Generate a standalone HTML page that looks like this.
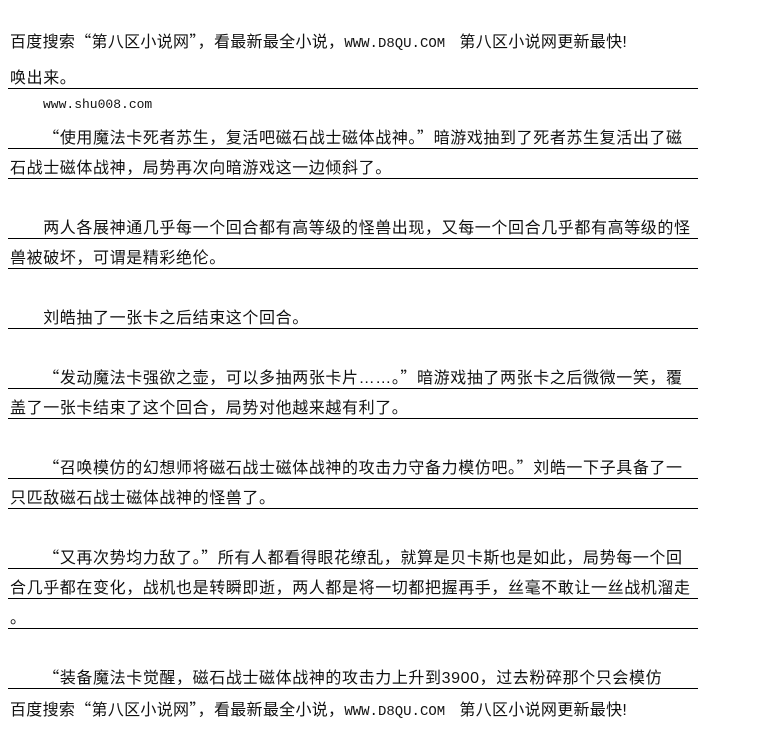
<!DOCTYPE html>
<html><head><meta charset="utf-8"><style>
body{margin:0;width:757px;height:750px;background:#fff;position:relative;overflow:hidden;font-family:"Liberation Sans","Noto Sans CJK SC","WenQuanYi Zen Hei",sans-serif;color:#111}
.t{position:absolute;left:10px;font-size:16px;line-height:20px;white-space:nowrap;letter-spacing:0.6px}
.l{position:absolute;left:8px;width:690px;height:1px;background:#000}
.m{font-family:"Liberation Mono",monospace;font-size:14px;letter-spacing:0}
.q{font-family:"Noto Sans CJK SC",sans-serif;line-height:0;vertical-align:baseline}
</style></head><body>
<div class="t" style="top:33px;letter-spacing:0.3px">百度搜索<span class="q">“</span>第八区小说网<span class="q">”</span>，看最新最全小说，<span class="m">WWW.D8QU.COM</span>&nbsp;&nbsp;&nbsp;第八区小说网更新最快!</div>

<div class="t" style="top:69px">唤出来。</div><div class="l" style="top:88px"></div>
<div class="t m" style="top:95px;left:43px;font-size:13px">www.shu008.com</div>

<div class="t" style="top:129px">&emsp;&emsp;<span class="q">“</span>使用魔法卡死者苏生，复活吧磁石战士磁体战神。<span class="q">”</span>暗游戏抽到了死者苏生复活出了磁</div><div class="l" style="top:148px"></div>
<div class="t" style="top:159px">石战士磁体战神，局势再次向暗游戏这一边倾斜了。</div><div class="l" style="top:178px"></div>

<div class="t" style="top:219px">&emsp;&emsp;两人各展神通几乎每一个回合都有高等级的怪兽出现，又每一个回合几乎都有高等级的怪</div><div class="l" style="top:238px"></div>
<div class="t" style="top:249px">兽被破坏，可谓是精彩绝伦。</div><div class="l" style="top:268px"></div>

<div class="t" style="top:309px">&emsp;&emsp;刘皓抽了一张卡之后结束这个回合。</div><div class="l" style="top:328px"></div>

<div class="t" style="top:369px">&emsp;&emsp;<span class="q">“</span>发动魔法卡强欲之壶，可以多抽两张卡片……。<span class="q">”</span>暗游戏抽了两张卡之后微微一笑，覆</div><div class="l" style="top:388px"></div>
<div class="t" style="top:399px">盖了一张卡结束了这个回合，局势对他越来越有利了。</div><div class="l" style="top:418px"></div>

<div class="t" style="top:459px">&emsp;&emsp;<span class="q">“</span>召唤模仿的幻想师将磁石战士磁体战神的攻击力守备力模仿吧。<span class="q">”</span>刘皓一下子具备了一</div><div class="l" style="top:478px"></div>
<div class="t" style="top:489px">只匹敌磁石战士磁体战神的怪兽了。</div><div class="l" style="top:508px"></div>

<div class="t" style="top:549px">&emsp;&emsp;<span class="q">“</span>又再次势均力敌了。<span class="q">”</span>所有人都看得眼花缭乱，就算是贝卡斯也是如此，局势每一个回</div><div class="l" style="top:568px"></div>
<div class="t" style="top:579px">合几乎都在变化，战机也是转瞬即逝，两人都是将一切都把握再手，丝毫不敢让一丝战机溜走</div><div class="l" style="top:598px"></div>
<div class="t" style="top:609px">。</div><div class="l" style="top:628px"></div>

<div class="t" style="top:669px">&emsp;&emsp;<span class="q">“</span>装备魔法卡觉醒，磁石战士磁体战神的攻击力上升到3900，过去粉碎那个只会模仿</div><div class="l" style="top:688px"></div>

<div class="t" style="top:701px;letter-spacing:0.3px">百度搜索<span class="q">“</span>第八区小说网<span class="q">”</span>，看最新最全小说，<span class="m">WWW.D8QU.COM</span>&nbsp;&nbsp;&nbsp;第八区小说网更新最快!</div>
</body></html>
